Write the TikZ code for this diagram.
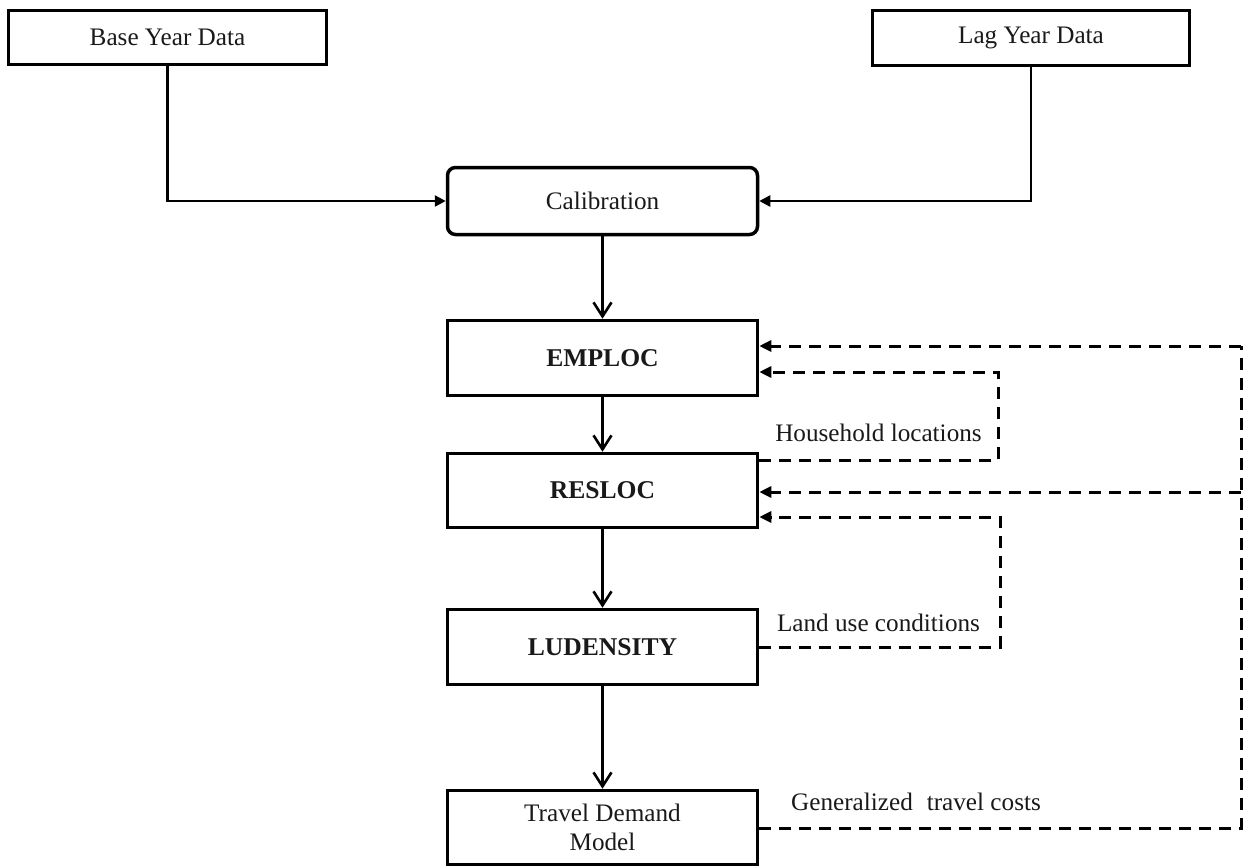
\documentclass[tikz,border=0pt]{standalone}
\usepackage{fontspec}
\setmainfont{Liberation Serif}
\usetikzlibrary{arrows.meta}
\begin{document}
\begin{tikzpicture}[x=0.5pt,y=-0.5pt,
  txt/.style={font=\fontsize{12.6}{14.5}\selectfont, text=black!90},
  box/.style={txt, draw, line width=1.75pt, minimum width=155pt, align=center, inner sep=0pt},
  solidarrow/.style={line width=1.2pt, -{Straight Barb[length=7pt,width=9pt,line width=1.3pt]}},
  solidtri/.style={line width=1.2pt, -{Triangle[length=5.5pt,width=5.5pt]}},
  dashline/.style={line width=1.5pt, dash pattern=on 6pt off 4pt},
  dasharrow/.style={dashline, -{Triangle[length=6pt,width=5.5pt]}},
  lbl/.style={txt, inner sep=0pt}
]
\useasboundingbox (0,0) rectangle (1244,867);

\node[box, minimum width=159pt, minimum height=27pt] (base) at (167.5,37.5) {Base Year Data};
\node[box, minimum width=158.5pt, minimum height=27.5pt] (lag) at (1031,38) {Lag Year Data};
\node[box, rounded corners=4pt, minimum height=33.5pt] (calib) at (602.5,201) {Calibration};
\node[box, minimum height=37.5pt, font=\fontsize{12.8}{14.5}\selectfont\bfseries] (emploc) at (602.5,358) {EMPLOC};
\node[box, minimum height=37pt, font=\fontsize{12.8}{14.5}\selectfont\bfseries] (resloc) at (602.5,490.5) {RESLOC};
\node[box, minimum height=37.5pt, font=\fontsize{12.8}{14.5}\selectfont\bfseries] (ludens) at (602.5,647) {LUDENSITY};
\node[box, minimum height=37pt] (travel) at (602.5,827.5) {Travel Demand\\Model};

% solid connectors
\draw[solidtri] (base.south) |- (calib.west);
\draw[solidtri] (lag.south) |- (calib.east);
\draw[solidarrow] (calib.south) -- (emploc.north);
\draw[solidarrow] (emploc.south) -- (resloc.north);
\draw[solidarrow] (resloc.south) -- (ludens.north);
\draw[solidarrow] (ludens.south) -- (travel.north);

% outer feedback loop
\coordinate (gb) at (1241,828);
\coordinate (gt) at (1241,346);
\coordinate (gm) at (1241,492);
\draw[dashline] (travel.east |- gb) -- (gb) -- (gt);
\draw[dasharrow] (gt) -- (emploc.east |- gt);
\draw[dasharrow] (gm) -- (resloc.east |- gm);

% household locations loop
\coordinate (hb) at (998,460);
\coordinate (ht) at (998,372);
\draw[dasharrow] (resloc.east |- hb) -- (hb) -- (ht) -- (emploc.east |- ht);

% land use loop
\coordinate (lb) at (1000,647);
\coordinate (lt) at (1000,517);
\draw[dasharrow] (ludens.east |- lb) -- (lb) -- (lt) -- (resloc.east |- lt);

% labels
\node[lbl] (hl) at (878.5,433) {Household locations};
\node[lbl] (lu) at (878.5,623) {Land use conditions};
\node[lbl] (gc) at (916,802) {Generalized\hspace{0.3em} travel costs};
\end{tikzpicture}
\end{document}
